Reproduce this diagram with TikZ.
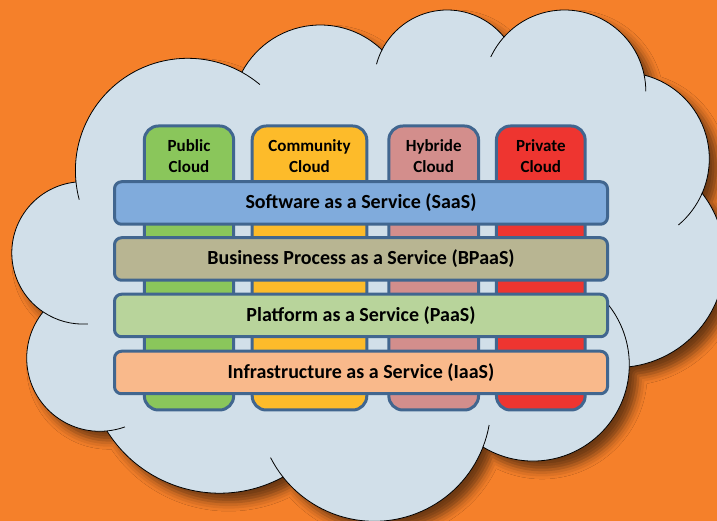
\documentclass[tikz,border=0pt]{standalone}
\usepackage{fontspec}
\setmainfont{Carlito}
\usepackage{tikz}
\usetikzlibrary{positioning,shadows.blur}
\definecolor{bgorange}{HTML}{F5802A}
\definecolor{cloudfill}{HTML}{D1DFE9}
\definecolor{boxline}{HTML}{41668F}
\definecolor{pubgreen}{HTML}{8AC65B}
\definecolor{comyellow}{HTML}{FDBB2A}
\definecolor{hybpink}{HTML}{D38E8C}
\definecolor{privred}{HTML}{EE3530}
\definecolor{saasblue}{HTML}{80ABDC}
\definecolor{bpaastan}{HTML}{B8B592}
\definecolor{paasgreen}{HTML}{B8D49B}
\definecolor{iaaspeach}{HTML}{F9B98B}

\begin{document}
\begin{tikzpicture}[line join=round,
  col/.style={draw=boxline,line width=3bp,rounded corners=14bp,anchor=north,align=center,inner sep=0pt,minimum width=#1,text height=46.5bp,text depth=237.5bp,font=\fontsize{17bp}{21bp}\selectfont\bfseries},
  layer/.style={draw=boxline,line width=3bp,rounded corners=7bp,minimum width=493bp,minimum height=42.5bp,inner sep=0pt,font=\fontsize{20bp}{24bp}\selectfont\bfseries},
  seam/.style={black,line width=0.8bp}]
\useasboundingbox (0bp,0bp) rectangle (717bp,521bp);
\clip (0bp,0bp) rectangle (717bp,521bp);
\fill [bgorange] (0bp,0bp) rectangle (717bp,521bp);
%% cloud
\path [fill=cloudfill,draw=black,line width=0.8bp,blur shadow={shadow xshift=9bp,shadow yshift=-9bp,shadow blur radius=9bp,shadow opacity=55}]
  ([shift={(187.7bp,350.4bp)}]185.8:112.3bp) arc[start angle=185.8,end angle=61.2,radius=112.3bp]
  -- ([shift={(320.3bp,407.3bp)}]152:88.7bp) arc[start angle=152,end angle=45.9,radius=88.7bp]
  -- ([shift={(447.2bp,437.8bp)}]153:73.2bp) arc[start angle=153,end angle=39.1,radius=73.2bp]
  -- ([shift={(564.5bp,429.7bp)}]138.1:81.3bp) arc[start angle=138.1,end angle=11.6,radius=81.3bp]
  -- ([shift={(622.9bp,362.2bp)}]75.9:86.4bp) arc[start angle=75.9,end angle=-23.4,radius=86.4bp]
  -- ([shift={(616.8bp,261.5bp)}]38:108bp) arc[start angle=38,end angle=-83,radius=108bp]
  -- ([shift={(533bp,156.25bp)}]-1.3:96.3bp) arc[start angle=-1.3,end angle=-121.3,radius=96.3bp]
  -- ([shift={(374.4bp,116.2bp)}]-21.2:116.5bp) arc[start angle=-21.2,end angle=-141.7,radius=116.5bp]
  -- ([shift={(219.5bp,160.7bp)}]-61.4:132.9bp) arc[start angle=-61.4,end angle=-147.9,radius=132.9bp]
  -- ([shift={(99.9bp,162.9bp)}]-84.4:73.2bp) arc[start angle=-84.4,end angle=-219,radius=73.2bp]
  -- ([shift={(83bp,268.1bp)}]-124:71.2bp) arc[start angle=-124,end angle=-264,radius=71.2bp]
  -- cycle;
\draw [seam] ([shift={(187.7bp,350.4bp)}]185.8:112.3bp) arc[start angle=185.8,end angle=195,radius=112.3bp];
\draw [seam] ([shift={(187.7bp,350.4bp)}]61.2:112.3bp) arc[start angle=61.2,end angle=50,radius=112.3bp];
\draw [seam] ([shift={(447.2bp,437.8bp)}]153:73.2bp) arc[start angle=153,end angle=165,radius=73.2bp];
\draw [seam] ([shift={(564.5bp,429.7bp)}]138.1:81.3bp) arc[start angle=138.1,end angle=155,radius=81.3bp];
\draw [seam] ([shift={(564.5bp,429.7bp)}]11.6:81.3bp) arc[start angle=11.6,end angle=0,radius=81.3bp];
\draw [seam] ([shift={(622.9bp,362.2bp)}]-23.4:86.4bp) arc[start angle=-23.4,end angle=-50,radius=86.4bp];
\draw [seam] ([shift={(533bp,156.25bp)}]-1.3:96.3bp) arc[start angle=-1.3,end angle=40,radius=96.3bp];
\draw [seam] ([shift={(374.4bp,116.2bp)}]-21.2:116.5bp) arc[start angle=-21.2,end angle=-10,radius=116.5bp];
\draw [seam] ([shift={(374.4bp,116.2bp)}]-141.7:116.5bp) arc[start angle=-141.7,end angle=-153,radius=116.5bp];
\draw [seam] ([shift={(99.9bp,162.9bp)}]-84.4:73.2bp) arc[start angle=-84.4,end angle=-70,radius=73.2bp];
\draw [seam] ([shift={(83bp,268.1bp)}]-124:71.2bp) arc[start angle=-124,end angle=-86,radius=71.2bp];
%% deployment models
\node (node_public) at (189bp,396.5bp) [col=89.3bp,fill=pubgreen] {Public\\Cloud};
\node (node_community) at (309.5bp,396.5bp) [col=114.6bp,fill=comyellow] {Community\\Cloud};
\node (node_hybride) at (433.7bp,396.5bp) [col=89.7bp,fill=hybpink] {Hybride\\Cloud};
\node (node_private) at (540.8bp,396.5bp) [col=88.7bp,fill=privred] {Private\\Cloud};
%% service layers
\node (node_saas) at (361bp,318bp) [layer,fill=saasblue] {Software as a Service (SaaS)};
\node (node_bpaas) at (361bp,262bp) [layer,fill=bpaastan] {Business Process as a Service (BPaaS)};
\node (node_paas) at (361bp,205.5bp) [layer,fill=paasgreen] {Platform as a Service (PaaS)};
\node (node_iaas) at (361bp,148.5bp) [layer,fill=iaaspeach] {Infrastructure as a Service (IaaS)};
%
\end{tikzpicture}
\end{document}
